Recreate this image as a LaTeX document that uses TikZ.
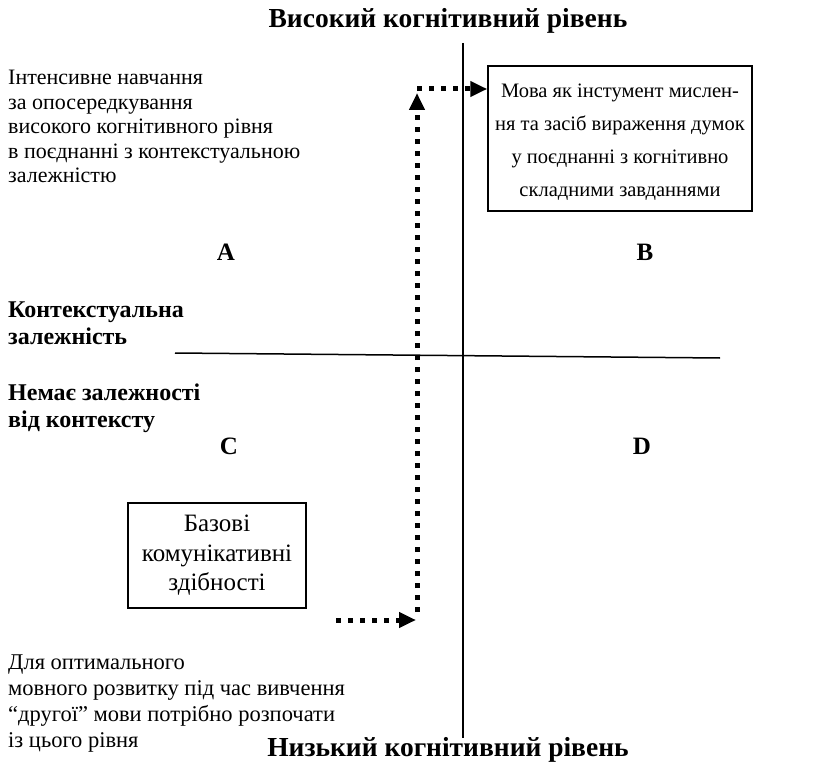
\documentclass[tikz,border=0pt]{standalone}
\usepackage{fontspec}
\setmainfont{Liberation Serif}
\usetikzlibrary{arrows.meta}
\begin{document}
\begin{tikzpicture}[x=1pt,y=-1pt,
  plain/.style={font=\fontsize{22}{24.5}\selectfont, inner sep=0pt, align=left},
  heading/.style={font=\fontsize{27.5}{30}\selectfont\bfseries, inner sep=0pt},
  sidelabel/.style={font=\fontsize{24}{26.5}\selectfont\bfseries, inner sep=0pt, align=left},
  quad/.style={font=\fontsize{25}{28}\selectfont\bfseries, inner sep=0pt},
  framed/.style={draw, line width=1.5pt, inner sep=0pt, align=center},
  axis/.style={line width=1.5pt},
  dotarrow/.style={line width=5pt, dash pattern=on 5pt off 7pt,
    -{Triangle[length=17pt,width=15pt]}}
]
\useasboundingbox[fill=white] (0,0) rectangle (820,765);

% level headings
\node[heading] (high) at (448,21) {Високий когнітивний рівень};
\node[heading] (low) at (448,750) {Низький когнітивний рівень};

% axes
\coordinate (vtop) at (463,43);
\coordinate (vbot) at (463,738);
\coordinate (hleft) at (175,353);
\coordinate (hright) at (720,358);
\draw[axis] (vtop) -- (vbot);
\draw[axis] (hleft) -- (hright);

% quadrant letters
\node[quad] (qa) at (226,252) {A};
\node[quad] (qb) at (645,252) {B};
\node[quad] (qc) at (229,446) {C};
\node[quad] (qd) at (642,446) {D};

% side labels
\node[sidelabel, anchor=north west] (ctxdep) at (8,302) {Контекстуальна\\залежність};
\node[sidelabel, anchor=north west] (noctx) at (8,384) {Немає залежності\\від контексту};

% explanatory texts
\node[plain, anchor=north west] (hitext) at (8,70)
  {Інтенсивне навчання\\за опосередкування\\високого когнітивного рівня\\в поєднанні з контекстуальною\\залежністю};
\node[plain, anchor=north west, font=\fontsize{22.5}{25.7}\selectfont] (lotext) at (8,655)
  {Для оптимального\\мовного розвитку під час вивчення\\“другої” мови потрібно розпочати\\із цього рівня};

% boxes
\node[framed, minimum width=264pt, minimum height=145pt, font=\fontsize{20.5}{33}\selectfont]
  (boxB) at (620,138.5)
  {\rule{0pt}{20pt}Мова як інстумент мислен-\\ня та засіб вираження думок\\у поєднанні з когнітивно\\складними завданнями};
\node[framed, minimum width=178pt, minimum height=105pt, font=\fontsize{25}{29.5}\selectfont]
  (boxC) at (217,555.5)
  {Базові\\комунікативні\\здібності};

% dotted path from C up to B
\coordinate (p1) at (336,620);
\coordinate (p2) at (416,620);
\coordinate (p3) at (417,612);
\coordinate (p4) at (417,93);
\coordinate (p5) at (417,89);
\draw[dotarrow] (p1) -- (p2);
\draw[dotarrow] (p3) -- (p4);
\draw[dotarrow] (p5) -- (p5 -| boxB.west);
\end{tikzpicture}
\end{document}
